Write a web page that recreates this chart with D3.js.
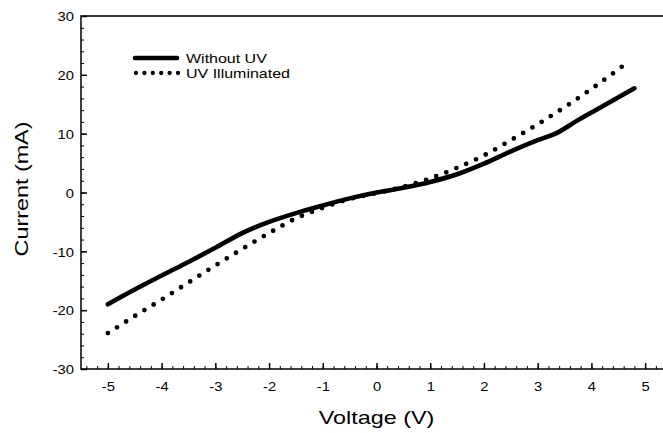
<!DOCTYPE html>
<html>
<meta charset="utf-8">
<title>I-V curve</title>
<style>
body { margin: 0; background: #fff; }
text { font-family: "Liberation Sans", Arial, sans-serif; fill: #000; }
</style>
<body>
<svg id="chart" width="663" height="433"></svg>
<script src="https://cdnjs.cloudflare.com/ajax/libs/d3/7.8.5/d3.min.js"></script>
<script>
// data
var voltsDark = [-5, -4.5, -4, -3.5, -3, -2.5, -2, -1.5, -1, -0.5, 0, 0.5, 1, 1.5, 2, 2.5, 3, 3.35, 3.75, 4.2, 4.8];
var currentDark = [-19, -16.5, -14.1, -11.8, -9.4, -6.9, -5.0, -3.5, -2.2, -1.0, 0, 0.8, 1.8, 3.1, 4.9, 7.0, 8.9, 10.1, 12.3, 14.6, 17.7];
var voltsUV = [-5, -4.5, -4, -3.5, -3, -2.5, -2, -1.5, -1, -0.5, 0, 0.5, 1, 1.5, 2, 2.5, 3, 3.5, 4, 4.7];
var currentUV = [-23.9, -21, -18.2, -15.3, -12.4, -9.6, -6.9, -4.4, -2.6, -1.1, -0.1, 1.0, 2.4, 4.2, 6.3, 8.9, 11.6, 14.5, 17.6, 22.3];
var xTicks = [-5, -4, -3, -2, -1, 0, 1, 2, 3, 4, 5];
var yTicks = [-30, -20, -10, 0, 10, 20, 30];
var legendNames = ["Without UV", "UV Illuminated"];

var mLeft = 81, mRight = 672, mTop = 16, mBottom = 369;
var sx = 1.23;   // the original type is set wide
var svg = d3.select("#chart");

var x = d3.scaleLinear().domain([-5.5, 5.5]).range([mLeft, mRight]);
var y = d3.scaleLinear().domain([-30, 30]).range([mBottom, mTop]);
var fmt = function(d) { return String(d); };   // plain hyphen minus

// frame
svg.append("rect")
    .attr("x", mLeft).attr("y", mTop)
    .attr("width", mRight - mLeft).attr("height", mBottom - mTop)
    .attr("fill", "none").attr("stroke", "#000").attr("stroke-width", 1.5);

// minor ticks
var xMinor = d3.range(-5.4, 5.41, 0.2).map(function(d) { return Math.round(d * 10) / 10; });
var yMinor = d3.range(-28, 29, 2);

svg.append("g").attr("transform", "translate(0," + mBottom + ")")
    .call(d3.axisBottom(x).tickValues(xMinor).tickSize(-3).tickFormat(""))
    .call(function(g) { g.select(".domain").remove(); g.selectAll("line").attr("stroke-width", 1); });
svg.append("g").attr("transform", "translate(" + mLeft + ",0)")
    .call(d3.axisLeft(y).tickValues(yMinor).tickSize(-3).tickFormat(""))
    .call(function(g) { g.select(".domain").remove(); g.selectAll("line").attr("stroke-width", 1); });

// major ticks
svg.append("g").attr("transform", "translate(0," + mBottom + ")")
    .call(d3.axisBottom(x).tickValues(xTicks).tickFormat(fmt).tickSizeInner(-6).tickSizeOuter(0))
    .call(function(g) {
        g.select(".domain").remove();
        g.selectAll("line").attr("stroke-width", 1.5);
        g.selectAll("text").attr("y", 22).attr("dy", null)
            .attr("font-size", 12).attr("transform", "scale(" + sx + ",1)");
    });
svg.append("g").attr("transform", "translate(" + mLeft + ",0)")
    .call(d3.axisLeft(y).tickValues(yTicks).tickFormat(fmt).tickSizeInner(-6).tickSizeOuter(0))
    .call(function(g) {
        g.select(".domain").remove();
        g.selectAll("line").attr("stroke-width", 1.5);
        g.selectAll("text").attr("x", -7 / sx).attr("dy", "0.4em")
            .attr("font-size", 12).attr("transform", "scale(" + sx + ",1)");
    });

// curves
var line = d3.line().curve(d3.curveMonotoneX);
var darkPts = voltsDark.map(function(v, i) { return [x(v), y(currentDark[i])]; });
var uvPts = voltsUV.map(function(v, i) { return [x(v), y(currentUV[i])]; });

svg.append("path").attr("d", line(darkPts))
    .attr("fill", "none").attr("stroke", "#000").attr("stroke-width", 4.6)
    .attr("stroke-linecap", "round");
svg.append("path").attr("d", line(uvPts))
    .attr("fill", "none").attr("stroke", "#000").attr("stroke-width", 4.8)
    .attr("stroke-linecap", "round").attr("stroke-dasharray", "0 10.8");

// legend
var lg = svg.append("g");
lg.append("line").attr("x1", 135).attr("x2", 177).attr("y1", 58).attr("y2", 58)
    .attr("stroke", "#000").attr("stroke-width", 4.5).attr("stroke-linecap", "round");
lg.append("line").attr("x1", 136).attr("x2", 178).attr("y1", 73).attr("y2", 73)
    .attr("stroke", "#000").attr("stroke-width", 4.3).attr("stroke-linecap", "round")
    .attr("stroke-dasharray", "0 8.4");
lg.selectAll("text").data(legendNames).enter().append("text")
    .attr("transform", function(d, i) { return "translate(186," + (62.5 + i * 15) + ") scale(" + sx + ",1)"; })
    .attr("font-size", 13).text(function(d) { return d; });

// axis titles
svg.append("text").attr("transform", "translate(" + x(0) + ",424) scale(" + sx + ",1)")
    .attr("text-anchor", "middle").attr("font-size", 19).text("Voltage (V)");
svg.append("text").attr("transform", "translate(28," + 189 + ") rotate(-90) scale(" + sx + ",1)")
    .attr("text-anchor", "middle").attr("font-size", 19).text("Current (mA)");
</script>
</body>
</html>
